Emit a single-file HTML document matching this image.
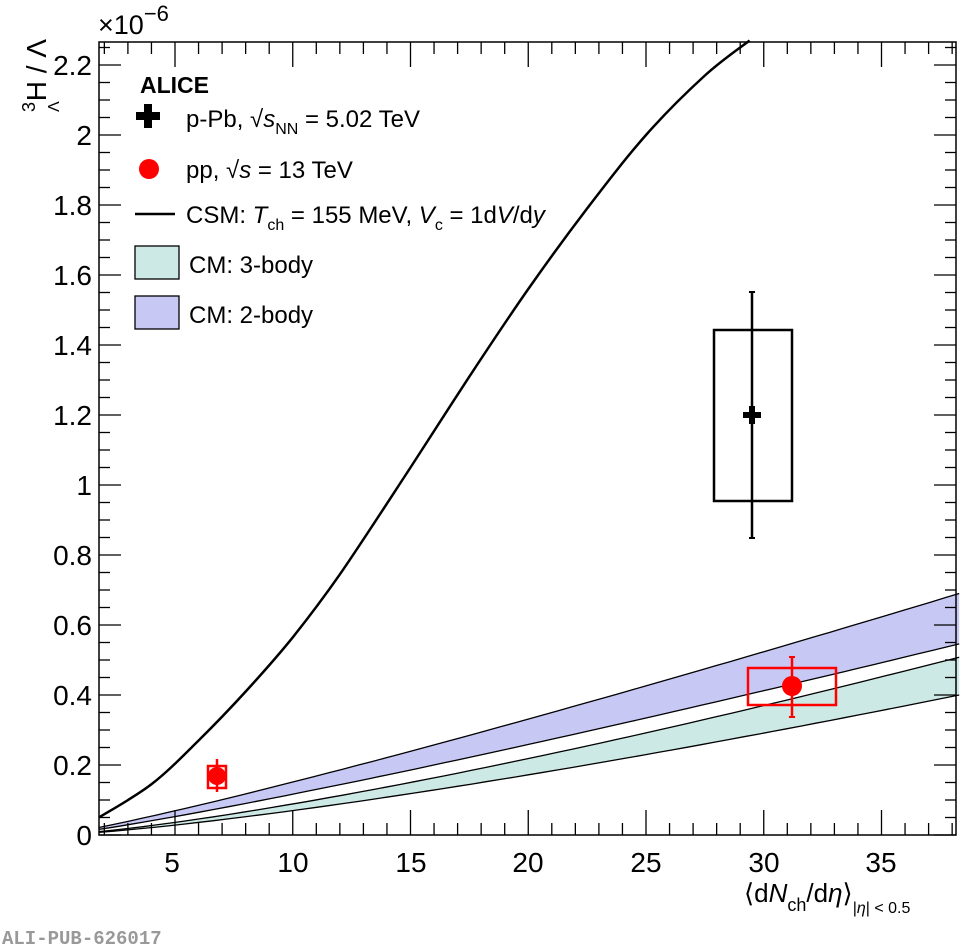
<!DOCTYPE html>
<html><head><meta charset="utf-8"><style>
html,body{margin:0;padding:0;background:#fff;}
svg{display:block;font-family:"Liberation Sans",sans-serif;}
</style></head><body>
<svg id="s" width="974" height="948" viewBox="0 0 974 948" xmlns="http://www.w3.org/2000/svg">
<g id="bands"></g>
<path id="csm" fill="none" stroke="#000" stroke-width="2.5"/>
<g id="ticks" stroke="#000" stroke-width="1.3"></g>
<rect x="99" y="42" width="857" height="793" fill="none" stroke="#000" stroke-width="1.5"/>
<!-- y labels -->
<g font-size="28" text-anchor="end" fill="#000">
<text x="92" y="845">0</text><text x="92" y="775">0.2</text><text x="92" y="705">0.4</text>
<text x="92" y="635">0.6</text><text x="92" y="565">0.8</text><text x="92" y="495">1</text>
<text x="92" y="425">1.2</text><text x="92" y="355">1.4</text><text x="92" y="285">1.6</text>
<text x="92" y="215">1.8</text><text x="92" y="145">2</text><text x="92" y="75">2.2</text>
</g>
<g font-size="28" text-anchor="middle" fill="#000">
<text x="172" y="872">5</text><text x="293" y="872">10</text><text x="411" y="872">15</text>
<text x="528" y="872">20</text><text x="646" y="872">25</text><text x="764" y="872">30</text><text x="881" y="872">35</text>
</g>
<text x="98" y="34" font-size="27">×10<tspan dy="-13" font-size="22">−6</tspan></text>
<g transform="translate(46,112) rotate(-90)" font-size="28">
<text x="0" y="0"><tspan font-size="18" dy="-11">3</tspan><tspan dx="-10" font-size="16" dy="24">Λ</tspan><tspan dy="-13">H / Λ</tspan></text>
</g>
<text x="744" y="902" font-size="26">⟨d<tspan font-style="italic">N</tspan><tspan font-size="18" dy="9">ch</tspan><tspan dy="-9">/d</tspan><tspan font-style="italic">η</tspan>⟩<tspan font-size="16" dy="11">|</tspan><tspan font-size="16" font-style="italic">η</tspan><tspan font-size="16">| &lt; 0.5</tspan></text>
<text x="2" y="944" font-family="Liberation Mono" font-weight="bold" font-size="19" fill="#999">ALI-PUB-626017</text>
<!-- data -->
<rect x="714" y="330" width="78" height="171" fill="none" stroke="#000" stroke-width="2.5"/>
<line x1="752" y1="292" x2="752" y2="538" stroke="#000" stroke-width="2.5"/>
<line x1="749" y1="292" x2="755" y2="292" stroke="#000" stroke-width="2"/><line x1="749" y1="538" x2="755" y2="538" stroke="#000" stroke-width="2"/>
<path d="M749,406h6v6h6v6h-6v6h-6v-6h-6v-6h6z" fill="#000"/>
<rect x="748" y="668" width="88" height="37" fill="none" stroke="#f00" stroke-width="2.5"/>
<line x1="792" y1="657" x2="792" y2="717" stroke="#f00" stroke-width="2.5"/>
<line x1="789" y1="657" x2="795" y2="657" stroke="#f00" stroke-width="2"/><line x1="789" y1="717" x2="795" y2="717" stroke="#f00" stroke-width="2"/>
<circle cx="792" cy="686" r="10" fill="#f00"/>
<rect x="208" y="766" width="18" height="22" fill="none" stroke="#f00" stroke-width="2.5"/>
<line x1="217" y1="759" x2="217" y2="792" stroke="#f00" stroke-width="2.5"/>
<circle cx="217" cy="776" r="9" fill="#f00"/>
<!-- legend -->
<text x="140" y="93" font-size="23" font-weight="bold">ALICE</text>
<path d="M144,104h8v8h8v8h-8v8h-8v-8h-8v-8h8z" fill="#000"/>
<text x="186" y="127" font-size="24">p-Pb, √<tspan font-style="italic">s</tspan><tspan font-size="16" dy="7">NN</tspan><tspan dy="-7"> = 5.02 TeV</tspan></text>
<circle cx="149" cy="169" r="10" fill="#f00"/>
<text x="186" y="178" font-size="24">pp, √<tspan font-style="italic">s</tspan> = 13 TeV</text>
<line x1="135" y1="214" x2="175" y2="214" stroke="#000" stroke-width="2.5"/>
<text x="186" y="223" font-size="24">CSM: <tspan font-style="italic">T</tspan><tspan font-size="16" dy="7">ch</tspan><tspan dy="-7"> = 155 MeV, </tspan><tspan font-style="italic">V</tspan><tspan font-size="16" dy="7">c</tspan><tspan dy="-7"> = 1d</tspan><tspan font-style="italic">V</tspan>/d<tspan font-style="italic">y</tspan></text>
<rect x="135" y="246" width="44" height="33" fill="#cde9e6" stroke="#000" stroke-width="1.3"/>
<text x="189" y="273" font-size="24">CM: 3-body</text>
<rect x="135" y="296" width="44" height="33" fill="#c8c8f5" stroke="#000" stroke-width="1.3"/>
<text x="189" y="323" font-size="24">CM: 2-body</text>
</svg>
<script>
var X=function(v){return 57.25+23.55*v},Y=function(v){return 835-350*v};
var x0=1.77,x1=38.3;
function pw(vr,p){var a=vr/Math.pow(x1,p);return function(x){return a*Math.pow(x,p)};}
function band(u,l,fill){var i,x,n=60,pts=[];
for(i=0;i<=n;i++){x=x0+(x1-x0)*i/n;pts.push(X(x).toFixed(1)+","+Y(u(x)).toFixed(1));}
var lo=[];for(i=n;i>=0;i--){x=x0+(x1-x0)*i/n;lo.push(X(x).toFixed(1)+","+Y(l(x)).toFixed(1));}
var g=document.getElementById("bands");
g.innerHTML+='<path d="M'+pts.join("L")+'L'+lo.join("L")+'Z" fill="'+fill+'"/>'+
'<path d="M'+pts.join("L")+'" fill="none" stroke="#000" stroke-width="1.3"/>'+
'<path d="M'+lo.join("L")+'" fill="none" stroke="#000" stroke-width="1.3"/>';}
band(pw(0.69,1.13),pw(0.546,1.15),"#c8c8f5");
band(pw(0.508,1.3),pw(0.40,1.3),"#cde9e6");
var c=[[1.77,0.05],[4,0.145],[6,0.27],[8,0.41],[10,0.565],[12,0.745],[15,1.05],[17.5,1.31],[20,1.56],[22.5,1.79],[25,2.0],[27.5,2.17],[29.4,2.27]];
var P=c.map(function(p){return [X(p[0]),Y(p[1])]});
var d="M"+P[0][0].toFixed(1)+","+P[0][1].toFixed(1);
for(var i=0;i<P.length-1;i++){var p0=P[Math.max(i-1,0)],p1=P[i],p2=P[i+1],p3=P[Math.min(i+2,P.length-1)];
d+="C"+(p1[0]+(p2[0]-p0[0])/6).toFixed(1)+","+(p1[1]+(p2[1]-p0[1])/6).toFixed(1)+" "+(p2[0]-(p3[0]-p1[0])/6).toFixed(1)+","+(p2[1]-(p3[1]-p1[1])/6).toFixed(1)+" "+p2[0].toFixed(1)+","+p2[1].toFixed(1);}
document.getElementById("csm").setAttribute("d",d);
var t="",v;
for(v=0;v<=2.26;v+=0.05){var y=Y(v),M=Math.abs(v/0.2-Math.round(v/0.2))<0.01,L=M?22:11;
t+='<line x1="99" y1="'+y+'" x2="'+(99+L)+'" y2="'+y+'"/><line x1="956" y1="'+y+'" x2="'+(956-L)+'" y2="'+y+'"/>';}
for(v=2;v<=38;v++){var x=X(v),L2=v%5==0?25:12;
t+='<line x1="'+x+'" y1="835" x2="'+x+'" y2="'+(835-L2)+'"/><line x1="'+x+'" y1="42" x2="'+x+'" y2="'+(42+L2)+'"/>';}
document.getElementById("ticks").innerHTML=t;
</script>
</body></html>
